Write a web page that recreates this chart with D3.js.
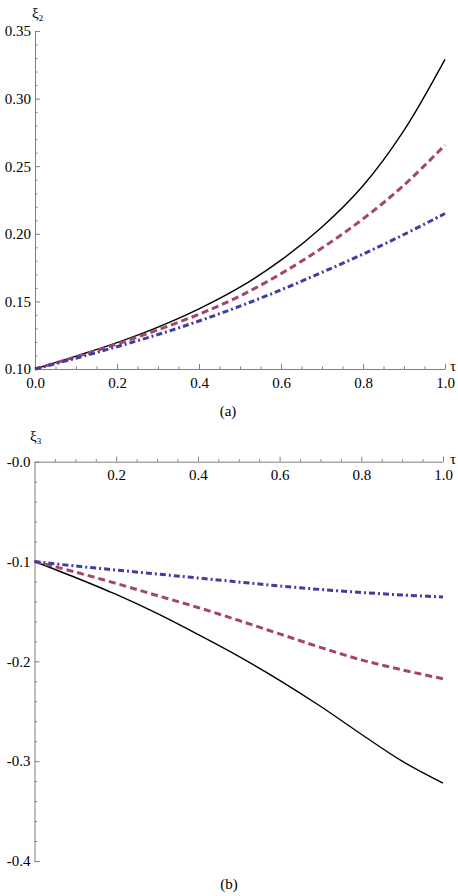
<!DOCTYPE html>
<html><head><meta charset="utf-8">
<script src="https://cdn.jsdelivr.net/npm/d3@7"></script>
<style>
body{margin:0;background:#fff;}
svg{display:block;}
text{font-family:"Liberation Serif","Times New Roman",Times,serif;}
</style></head>
<body>
<svg id="c" width="458" height="896"></svg>
<script>
// ---- data ----
const tau = [0,0.1,0.2,0.3,0.4,0.5,0.6,0.7,0.8,0.9,1.0];
// panel (a): xi2
const a_black = [0.1,0.1095,0.1195,0.131,0.1445,0.1605,0.1805,0.205,0.2355,0.2765,0.329];
const a_red   = [0.1,0.109,0.1185,0.129,0.1405,0.154,0.1705,0.1895,0.211,0.236,0.2657];
const a_blue  = [0.1,0.108,0.1165,0.1255,0.1355,0.1465,0.1585,0.1715,0.185,0.1995,0.215];
// panel (b): xi3
const b_black = [-0.1,-0.116,-0.133,-0.152,-0.173,-0.195,-0.219,-0.245,-0.273,-0.300,-0.322];
const b_red   = [-0.1,-0.1105,-0.122,-0.134,-0.146,-0.159,-0.1725,-0.186,-0.1985,-0.2085,-0.2175];
const b_blue  = [-0.1,-0.1045,-0.1085,-0.1125,-0.1165,-0.1205,-0.1245,-0.128,-0.131,-0.1335,-0.1355];
// ticks
const a_xTicks = [0,0.2,0.4,0.6,0.8,1.0];
const a_yTicks = [0.10,0.15,0.20,0.25,0.30,0.35];
const b_xTicks = [0.2,0.4,0.6,0.8,1.0];
const b_yTicks = [0,-0.1,-0.2,-0.3,-0.4];

const svg = d3.select("#c");
const axisCol = "#7f7f7f";
const FONT = "Liberation Serif, Times New Roman, serif";
const styles = [
  {color:"#000000",width:1.4,dash:null},
  {color:"#a3456f",width:3,dash:"7,4"},
  {color:"#3f3f9f",width:3,dash:"6,3,2,3"}
];

function range(a,b,s){const r=[];for(let v=a;v<=b+1e-9;v+=s)r.push(+v.toFixed(4));return r;}

function panel(opts){
  const g = svg.append("g");
  const x = d3.scaleLinear().domain([0,1]).range(opts.xr);
  const y = d3.scaleLinear().domain(opts.yd).range(opts.yr);
  const xMinor = range(0,1,0.05).filter(v=>!opts.xTicks.some(t=>Math.abs(t-v)<1e-6) && v>0);
  const yMinor = range(Math.min(...opts.yd),Math.max(...opts.yd),opts.yMinorStep).filter(v=>!opts.yTicks.some(t=>Math.abs(t-v)<1e-6));
  const axY = opts.axisAt;
  g.append("g").attr("transform",`translate(0,${axY})`)
    .call(d3.axisBottom(x).tickValues(xMinor).tickSize(-2.5).tickFormat(""))
    .call(s=>s.select(".domain").remove());
  g.append("g").attr("transform",`translate(0,${axY})`)
    .call(d3.axisBottom(x).tickValues(opts.xTicks).tickSizeInner(-5).tickSizeOuter(0).tickPadding(8).tickFormat(d3.format(".1f")));
  g.append("g").attr("transform",`translate(${x(0)},0)`)
    .call(d3.axisLeft(y).tickValues(yMinor).tickSize(-2.5).tickFormat(""))
    .call(s=>s.select(".domain").remove());
  g.append("g").attr("transform",`translate(${x(0)},0)`)
    .call(d3.axisLeft(y).tickValues(opts.yTicks).tickSizeInner(-5).tickSizeOuter(0).tickPadding(4).tickFormat(opts.yFmt));
  g.selectAll(".domain,.tick line").attr("stroke",axisCol).attr("stroke-width",1);
  g.selectAll(".tick text").attr("font-family",FONT).attr("font-size",15).attr("fill","#000");
  const line = d3.line().x((d,i)=>x(tau[i])).y(d=>y(d)).curve(d3.curveCatmullRom.alpha(0.5));
  opts.series.forEach((s,i)=>{
    g.append("path").attr("d",line(s)).attr("fill","none")
      .attr("stroke",styles[i].color).attr("stroke-width",styles[i].width)
      .attr("stroke-dasharray",styles[i].dash);
  });
  const yl = g.append("text").attr("x",opts.ylab[0]).attr("y",opts.ylab[1]).attr("font-size",15).attr("font-family",FONT);
  yl.append("tspan").text("ξ");
  yl.append("tspan").text(opts.ysub).attr("font-size",9).attr("dy",3);
  g.append("text").attr("x",opts.tlab[0]).attr("y",opts.tlab[1]).attr("font-size",15).attr("font-family",FONT).text("τ");
  g.append("text").attr("x",opts.cap[0]).attr("y",opts.cap[1]).attr("font-size",15).attr("font-family",FONT).attr("text-anchor","middle").text(opts.capText);
}

panel({xr:[35,445],yd:[0.10,0.35],yr:[369,31],axisAt:369,xTicks:a_xTicks,yTicks:a_yTicks,yMinorStep:0.01,
  yFmt:d3.format(".2f"),series:[a_black,a_red,a_blue],ylab:[32,18],ysub:"2",tlab:[450,371],cap:[228,416],capText:"(a)"});

panel({xr:[34.5,443],yd:[0,-0.4],yr:[461.7,861],axisAt:461.7,xTicks:b_xTicks,yTicks:b_yTicks,yMinorStep:0.02,
  yFmt:d=>(d<=0?"-":"")+Math.abs(d).toFixed(1),series:[b_black,b_red,b_blue],ylab:[30,441],ysub:"3",tlab:[450,464],cap:[229,889],capText:"(b)"});
</script>
</body></html>
